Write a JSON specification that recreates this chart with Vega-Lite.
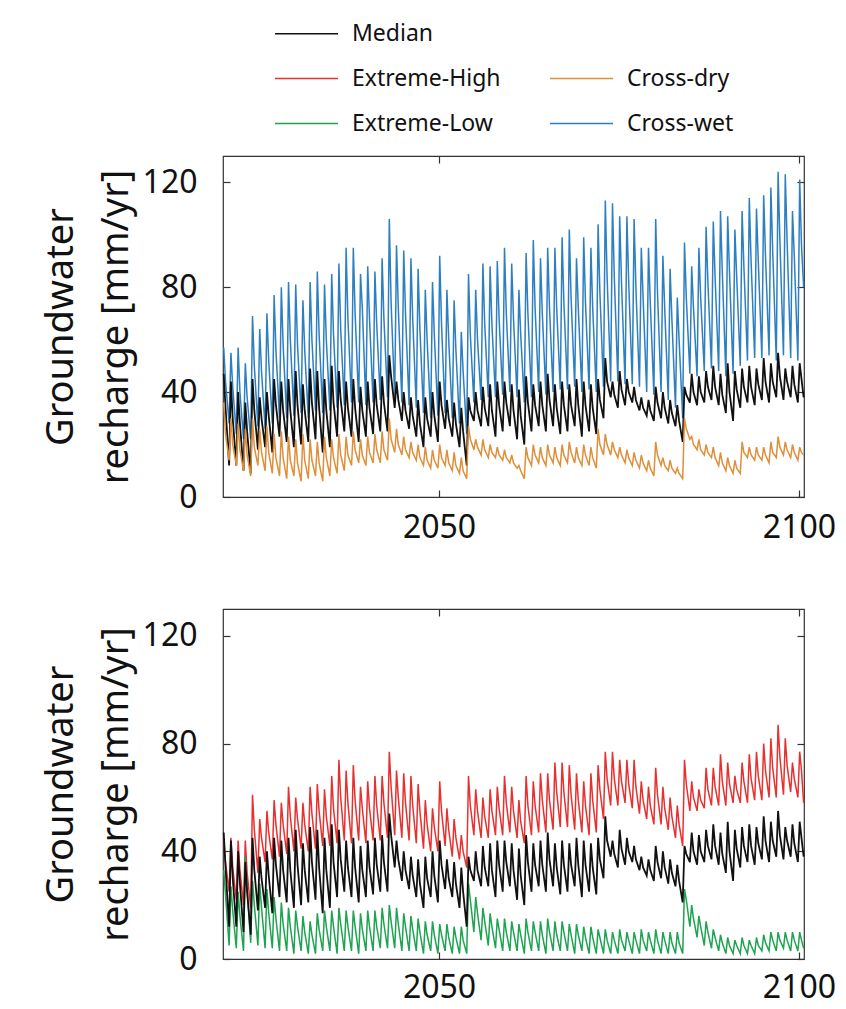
{
"$schema":"https://vega.github.io/schema/vega-lite/v6.json",
"padding":{"left":41,"top":1,"right":0,"bottom":10},
"background":"white",
"config":{"font":"Noto Sans","view":{"stroke":"#333333","strokeWidth":1.2},"axis":{"grid":false,"domain":false,"tickColor":"#333333","tickWidth":1.2,"labelColor":"#111111","titleColor":"#111111","titleFontWeight":"normal","labelFont":"Noto Sans","titleFont":"Noto Sans"}},
"datasets":{"series":[
{"t":2020.1,"w":57,"m":47,"d":36,"h":45,"l":33},{"t":2020.35,"w":44,"m":34,"d":24,"h":36,"l":24},{"t":2020.85,"w":28,"m":12,"d":14,"h":25,"l":5},
{"t":2021.1,"w":55,"m":44,"d":30,"h":45,"l":27},{"t":2021.35,"w":42,"m":30,"d":20,"h":34,"l":18},{"t":2021.85,"w":24,"m":12,"d":12,"h":22,"l":4},
{"t":2022.1,"w":57,"m":40,"d":28,"h":44,"l":25},{"t":2022.35,"w":40,"m":28,"d":18,"h":33,"l":16},{"t":2022.85,"w":22,"m":10,"d":10,"h":20,"l":3},
{"t":2023.1,"w":51,"m":36,"d":26,"h":44,"l":38},{"t":2023.35,"w":38,"m":25,"d":16,"h":32,"l":26},{"t":2023.85,"w":22,"m":9,"d":8,"h":19,"l":6},
{"t":2024.1,"w":69,"m":45,"d":30,"h":61,"l":29},{"t":2024.35,"w":50,"m":33,"d":19,"h":48,"l":20},{"t":2024.85,"w":27,"m":18,"d":12,"h":32,"l":5},
{"t":2025.1,"w":64,"m":38,"d":26,"h":52,"l":28},{"t":2025.35,"w":48,"m":30,"d":17,"h":45,"l":19},{"t":2025.85,"w":26,"m":19,"d":10,"h":36,"l":4},
{"t":2026.1,"w":70,"m":40,"d":27,"h":55,"l":26},{"t":2026.35,"w":52,"m":31,"d":17,"h":47,"l":17},{"t":2026.85,"w":28,"m":17,"d":9,"h":37,"l":4},
{"t":2027.1,"w":77,"m":45,"d":24,"h":59,"l":23},{"t":2027.35,"w":56,"m":35,"d":15,"h":50,"l":15},{"t":2027.85,"w":30,"m":23,"d":8,"h":38,"l":3},
{"t":2028.1,"w":80,"m":44,"d":25,"h":58,"l":21},{"t":2028.35,"w":58,"m":33,"d":15,"h":50,"l":13},{"t":2028.85,"w":30,"m":21,"d":7,"h":39,"l":3},
{"t":2029.1,"w":82,"m":45,"d":23,"h":64,"l":19},{"t":2029.35,"w":60,"m":33,"d":14,"h":53,"l":12},{"t":2029.85,"w":31,"m":19,"d":8,"h":40,"l":2},
{"t":2030.1,"w":81,"m":48,"d":22,"h":60,"l":18},{"t":2030.35,"w":58,"m":35,"d":13,"h":52,"l":12},{"t":2030.85,"w":32,"m":20,"d":6,"h":41,"l":3},
{"t":2031.1,"w":75,"m":43,"d":24,"h":58,"l":16},{"t":2031.35,"w":56,"m":33,"d":14,"h":50,"l":10},{"t":2031.85,"w":30,"m":21,"d":7,"h":40,"l":2},
{"t":2032.1,"w":82,"m":49,"d":22,"h":64,"l":14},{"t":2032.35,"w":60,"m":36,"d":14,"h":54,"l":9},{"t":2032.85,"w":33,"m":22,"d":8,"h":41,"l":2},
{"t":2033.1,"w":86,"m":48,"d":21,"h":65,"l":17},{"t":2033.35,"w":62,"m":34,"d":13,"h":55,"l":11},{"t":2033.85,"w":32,"m":17,"d":6,"h":42,"l":3},
{"t":2034.1,"w":81,"m":45,"d":23,"h":63,"l":18},{"t":2034.35,"w":60,"m":33,"d":15,"h":53,"l":12},{"t":2034.85,"w":33,"m":19,"d":8,"h":42,"l":3},
{"t":2035.1,"w":85,"m":50,"d":22,"h":68,"l":18},{"t":2035.35,"w":62,"m":36,"d":15,"h":56,"l":12},{"t":2035.85,"w":34,"m":23,"d":9,"h":43,"l":2},
{"t":2036.1,"w":89,"m":48,"d":24,"h":74,"l":19},{"t":2036.35,"w":64,"m":37,"d":16,"h":60,"l":13},{"t":2036.85,"w":35,"m":25,"d":10,"h":44,"l":3},
{"t":2037.1,"w":95,"m":44,"d":23,"h":70,"l":18},{"t":2037.35,"w":68,"m":34,"d":16,"h":58,"l":12},{"t":2037.85,"w":36,"m":23,"d":12,"h":43,"l":3},
{"t":2038.1,"w":95,"m":45,"d":25,"h":72,"l":18},{"t":2038.35,"w":70,"m":34,"d":18,"h":59,"l":12},{"t":2038.85,"w":36,"m":21,"d":13,"h":44,"l":2},
{"t":2039.1,"w":85,"m":42,"d":22,"h":64,"l":17},{"t":2039.35,"w":72,"m":33,"d":16,"h":56,"l":11},{"t":2039.85,"w":35,"m":23,"d":12,"h":43,"l":3},
{"t":2040.1,"w":88,"m":44,"d":23,"h":66,"l":18},{"t":2040.35,"w":68,"m":34,"d":17,"h":56,"l":12},{"t":2040.85,"w":36,"m":24,"d":13,"h":44,"l":3},
{"t":2041.1,"w":86,"m":45,"d":24,"h":68,"l":18},{"t":2041.35,"w":66,"m":35,"d":18,"h":57,"l":12},{"t":2041.85,"w":37,"m":25,"d":13,"h":44,"l":4},
{"t":2042.1,"w":91,"m":46,"d":25,"h":68,"l":19},{"t":2042.35,"w":68,"m":36,"d":18,"h":58,"l":13},{"t":2042.85,"w":38,"m":25,"d":14,"h":45,"l":4},
{"t":2043.1,"w":106,"m":54,"d":30,"h":77,"l":20},{"t":2043.35,"w":74,"m":46,"d":22,"h":64,"l":14},{"t":2043.85,"w":38,"m":34,"d":17,"h":46,"l":4},
{"t":2044.1,"w":96,"m":44,"d":26,"h":70,"l":19},{"t":2044.35,"w":72,"m":37,"d":20,"h":60,"l":13},{"t":2044.85,"w":36,"m":29,"d":16,"h":45,"l":3},
{"t":2045.1,"w":94,"m":40,"d":23,"h":69,"l":17},{"t":2045.35,"w":70,"m":33,"d":18,"h":58,"l":12},{"t":2045.85,"w":35,"m":26,"d":15,"h":44,"l":3},
{"t":2046.1,"w":91,"m":38,"d":21,"h":68,"l":16},{"t":2046.35,"w":68,"m":31,"d":17,"h":57,"l":11},{"t":2046.85,"w":34,"m":23,"d":14,"h":43,"l":3},
{"t":2047.1,"w":87,"m":37,"d":20,"h":65,"l":15},{"t":2047.35,"w":64,"m":28,"d":15,"h":55,"l":10},{"t":2047.85,"w":32,"m":19,"d":12,"h":41,"l":2},
{"t":2048.1,"w":79,"m":38,"d":19,"h":59,"l":14},{"t":2048.35,"w":60,"m":30,"d":14,"h":50,"l":9},{"t":2048.85,"w":30,"m":23,"d":11,"h":40,"l":3},
{"t":2049.1,"w":82,"m":40,"d":18,"h":56,"l":14},{"t":2049.35,"w":62,"m":31,"d":14,"h":49,"l":9},{"t":2049.85,"w":31,"m":21,"d":11,"h":40,"l":2},
{"t":2050.1,"w":92,"m":44,"d":20,"h":66,"l":13},{"t":2050.35,"w":66,"m":35,"d":15,"h":55,"l":9},{"t":2050.85,"w":32,"m":26,"d":12,"h":42,"l":3},
{"t":2051.1,"w":79,"m":37,"d":18,"h":56,"l":13},{"t":2051.35,"w":60,"m":30,"d":13,"h":48,"l":8},{"t":2051.85,"w":30,"m":23,"d":10,"h":38,"l":2},
{"t":2052.1,"w":75,"m":36,"d":17,"h":52,"l":12},{"t":2052.35,"w":56,"m":28,"d":12,"h":45,"l":8},{"t":2052.85,"w":28,"m":19,"d":9,"h":37,"l":2},
{"t":2053.1,"w":63,"m":34,"d":15,"h":46,"l":12},{"t":2053.35,"w":48,"m":25,"d":10,"h":40,"l":7},{"t":2053.85,"w":24,"m":12,"d":7,"h":34,"l":2},
{"t":2054.1,"w":85,"m":38,"d":27,"h":68,"l":28},{"t":2054.35,"w":62,"m":33,"d":22,"h":57,"l":22},{"t":2054.85,"w":36,"m":29,"d":18,"h":46,"l":10},
{"t":2055.1,"w":79,"m":40,"d":22,"h":63,"l":23},{"t":2055.35,"w":60,"m":33,"d":19,"h":55,"l":17},{"t":2055.85,"w":37,"m":27,"d":16,"h":45,"l":7},
{"t":2056.1,"w":89,"m":42,"d":22,"h":60,"l":19},{"t":2056.35,"w":66,"m":34,"d":18,"h":53,"l":14},{"t":2056.85,"w":38,"m":27,"d":15,"h":45,"l":5},
{"t":2057.1,"w":88,"m":43,"d":20,"h":63,"l":17},{"t":2057.35,"w":66,"m":33,"d":17,"h":55,"l":12},{"t":2057.85,"w":38,"m":23,"d":15,"h":46,"l":4},
{"t":2058.1,"w":90,"m":44,"d":19,"h":64,"l":15},{"t":2058.35,"w":68,"m":35,"d":16,"h":56,"l":11},{"t":2058.85,"w":39,"m":25,"d":14,"h":46,"l":3},
{"t":2059.1,"w":95,"m":44,"d":18,"h":68,"l":15},{"t":2059.35,"w":70,"m":36,"d":15,"h":58,"l":10},{"t":2059.85,"w":40,"m":27,"d":13,"h":47,"l":3},
{"t":2060.1,"w":89,"m":43,"d":16,"h":64,"l":14},{"t":2060.35,"w":68,"m":33,"d":13,"h":55,"l":10},{"t":2060.85,"w":38,"m":22,"d":11,"h":45,"l":3},
{"t":2061.1,"w":79,"m":41,"d":12,"h":59,"l":13},{"t":2061.35,"w":62,"m":31,"d":10,"h":51,"l":9},{"t":2061.85,"w":36,"m":20,"d":7,"h":43,"l":2},
{"t":2062.1,"w":93,"m":46,"d":19,"h":68,"l":15},{"t":2062.35,"w":70,"m":36,"d":15,"h":57,"l":10},{"t":2062.85,"w":38,"m":25,"d":12,"h":46,"l":3},
{"t":2063.1,"w":98,"m":43,"d":20,"h":66,"l":14},{"t":2063.35,"w":72,"m":35,"d":16,"h":57,"l":10},{"t":2063.85,"w":40,"m":27,"d":13,"h":47,"l":3},
{"t":2064.1,"w":91,"m":44,"d":19,"h":69,"l":14},{"t":2064.35,"w":70,"m":35,"d":15,"h":59,"l":9},{"t":2064.85,"w":39,"m":25,"d":12,"h":47,"l":2},
{"t":2065.1,"w":95,"m":47,"d":20,"h":69,"l":15},{"t":2065.35,"w":72,"m":37,"d":16,"h":59,"l":10},{"t":2065.85,"w":40,"m":27,"d":13,"h":48,"l":3},
{"t":2066.1,"w":95,"m":43,"d":19,"h":73,"l":14},{"t":2066.35,"w":72,"m":34,"d":15,"h":62,"l":9},{"t":2066.85,"w":41,"m":24,"d":12,"h":49,"l":3},
{"t":2067.1,"w":99,"m":44,"d":20,"h":73,"l":14},{"t":2067.35,"w":74,"m":35,"d":16,"h":62,"l":10},{"t":2067.85,"w":41,"m":25,"d":13,"h":49,"l":3},
{"t":2068.1,"w":102,"m":43,"d":21,"h":72,"l":13},{"t":2068.35,"w":76,"m":35,"d":17,"h":61,"l":9},{"t":2068.85,"w":42,"m":27,"d":13,"h":48,"l":2},
{"t":2069.1,"w":91,"m":45,"d":19,"h":69,"l":13},{"t":2069.35,"w":72,"m":35,"d":15,"h":59,"l":9},{"t":2069.85,"w":40,"m":23,"d":12,"h":47,"l":3},
{"t":2070.1,"w":99,"m":44,"d":20,"h":66,"l":12},{"t":2070.35,"w":74,"m":35,"d":16,"h":57,"l":8},{"t":2070.85,"w":41,"m":25,"d":12,"h":46,"l":2},
{"t":2071.1,"w":95,"m":43,"d":19,"h":69,"l":12},{"t":2071.35,"w":72,"m":34,"d":15,"h":59,"l":8},{"t":2071.85,"w":40,"m":24,"d":11,"h":47,"l":2},
{"t":2072.1,"w":104,"m":45,"d":26,"h":72,"l":11},{"t":2072.35,"w":78,"m":37,"d":20,"h":63,"l":8},{"t":2072.85,"w":42,"m":30,"d":16,"h":52,"l":2},
{"t":2073.1,"w":113,"m":53,"d":24,"h":77,"l":11},{"t":2073.35,"w":84,"m":44,"d":20,"h":67,"l":7},{"t":2073.85,"w":44,"m":38,"d":16,"h":57,"l":2},
{"t":2074.1,"w":112,"m":44,"d":21,"h":77,"l":10},{"t":2074.35,"w":84,"m":39,"d":18,"h":67,"l":7},{"t":2074.85,"w":44,"m":34,"d":15,"h":57,"l":2},
{"t":2075.1,"w":107,"m":48,"d":19,"h":74,"l":11},{"t":2075.35,"w":82,"m":41,"d":16,"h":66,"l":7},{"t":2075.85,"w":43,"m":35,"d":13,"h":58,"l":3},
{"t":2076.1,"w":107,"m":45,"d":18,"h":74,"l":10},{"t":2076.35,"w":82,"m":40,"d":15,"h":65,"l":7},{"t":2076.85,"w":43,"m":36,"d":12,"h":56,"l":2},
{"t":2077.1,"w":106,"m":42,"d":17,"h":74,"l":10},{"t":2077.35,"w":80,"m":37,"d":14,"h":64,"l":7},{"t":2077.85,"w":42,"m":33,"d":11,"h":54,"l":2},
{"t":2078.1,"w":95,"m":38,"d":16,"h":66,"l":11},{"t":2078.35,"w":76,"m":34,"d":13,"h":59,"l":7},{"t":2078.85,"w":40,"m":31,"d":10,"h":52,"l":3},
{"t":2079.1,"w":95,"m":37,"d":14,"h":64,"l":10},{"t":2079.35,"w":74,"m":33,"d":11,"h":57,"l":7},{"t":2079.85,"w":39,"m":29,"d":8,"h":50,"l":2},
{"t":2080.1,"w":106,"m":42,"d":21,"h":71,"l":11},{"t":2080.35,"w":78,"m":36,"d":16,"h":61,"l":7},{"t":2080.85,"w":40,"m":30,"d":12,"h":50,"l":2},
{"t":2081.1,"w":92,"m":40,"d":15,"h":64,"l":10},{"t":2081.35,"w":72,"m":34,"d":12,"h":56,"l":7},{"t":2081.85,"w":37,"m":28,"d":10,"h":48,"l":2},
{"t":2082.1,"w":87,"m":37,"d":14,"h":60,"l":10},{"t":2082.35,"w":68,"m":32,"d":11,"h":53,"l":6},{"t":2082.85,"w":34,"m":27,"d":9,"h":45,"l":2},
{"t":2083.1,"w":76,"m":35,"d":11,"h":57,"l":10},{"t":2083.35,"w":60,"m":29,"d":9,"h":50,"l":6},{"t":2083.85,"w":30,"m":21,"d":7,"h":42,"l":2},
{"t":2084.1,"w":97,"m":42,"d":30,"h":74,"l":26},{"t":2084.35,"w":76,"m":39,"d":26,"h":65,"l":22},{"t":2084.85,"w":47,"m":36,"d":22,"h":55,"l":12},
{"t":2085.1,"w":88,"m":47,"d":23,"h":66,"l":20},{"t":2085.35,"w":72,"m":40,"d":20,"h":60,"l":15},{"t":2085.85,"w":46,"m":35,"d":18,"h":55,"l":8},
{"t":2086.1,"w":95,"m":46,"d":22,"h":63,"l":16},{"t":2086.35,"w":76,"m":40,"d":18,"h":59,"l":12},{"t":2086.85,"w":48,"m":36,"d":16,"h":56,"l":5},
{"t":2087.1,"w":103,"m":48,"d":20,"h":71,"l":14},{"t":2087.35,"w":82,"m":42,"d":17,"h":63,"l":10},{"t":2087.85,"w":49,"m":37,"d":15,"h":57,"l":4},
{"t":2088.1,"w":105,"m":50,"d":19,"h":71,"l":11},{"t":2088.35,"w":84,"m":42,"d":15,"h":64,"l":8},{"t":2088.85,"w":48,"m":35,"d":12,"h":57,"l":3},
{"t":2089.1,"w":109,"m":47,"d":17,"h":76,"l":9},{"t":2089.35,"w":86,"m":39,"d":13,"h":66,"l":6},{"t":2089.85,"w":46,"m":32,"d":10,"h":57,"l":2},
{"t":2090.1,"w":107,"m":51,"d":15,"h":73,"l":8},{"t":2090.35,"w":86,"m":40,"d":12,"h":65,"l":5},{"t":2090.85,"w":47,"m":29,"d":9,"h":58,"l":2},
{"t":2091.1,"w":102,"m":48,"d":14,"h":68,"l":7},{"t":2091.35,"w":84,"m":41,"d":11,"h":63,"l":5},{"t":2091.85,"w":50,"m":34,"d":9,"h":58,"l":2},
{"t":2092.1,"w":109,"m":49,"d":21,"h":73,"l":8},{"t":2092.35,"w":88,"m":42,"d":17,"h":66,"l":5},{"t":2092.85,"w":52,"m":36,"d":15,"h":58,"l":2},
{"t":2093.1,"w":114,"m":50,"d":19,"h":76,"l":7},{"t":2093.35,"w":90,"m":42,"d":16,"h":67,"l":5},{"t":2093.85,"w":53,"m":35,"d":14,"h":59,"l":2},
{"t":2094.1,"w":110,"m":49,"d":19,"h":77,"l":8},{"t":2094.35,"w":90,"m":43,"d":16,"h":68,"l":5},{"t":2094.85,"w":53,"m":37,"d":14,"h":59,"l":3},
{"t":2095.1,"w":115,"m":53,"d":19,"h":80,"l":9},{"t":2095.35,"w":92,"m":44,"d":16,"h":70,"l":6},{"t":2095.85,"w":54,"m":36,"d":13,"h":60,"l":3},
{"t":2096.1,"w":118,"m":51,"d":21,"h":82,"l":10},{"t":2096.35,"w":94,"m":44,"d":17,"h":71,"l":7},{"t":2096.85,"w":52,"m":38,"d":15,"h":60,"l":3},
{"t":2097.1,"w":124,"m":55,"d":23,"h":87,"l":10},{"t":2097.35,"w":98,"m":46,"d":19,"h":75,"l":7},{"t":2097.85,"w":54,"m":37,"d":16,"h":61,"l":4},
{"t":2098.1,"w":123,"m":49,"d":21,"h":82,"l":10},{"t":2098.35,"w":98,"m":44,"d":18,"h":72,"l":7},{"t":2098.85,"w":53,"m":38,"d":15,"h":62,"l":3},
{"t":2099.1,"w":109,"m":50,"d":20,"h":73,"l":10},{"t":2099.35,"w":92,"m":43,"d":17,"h":67,"l":7},{"t":2099.85,"w":52,"m":36,"d":14,"h":60,"l":3},
{"t":2100.1,"w":121,"m":51,"d":19,"h":77,"l":10},{"t":2100.35,"w":96,"m":45,"d":17,"h":70,"l":7},{"t":2100.65,"w":80,"m":38,"d":16,"h":58,"l":4}
]},
"resolve":{"scale":{"color":"shared"},"legend":{"color":"shared"}},
"bounds":"flush",
"spacing":112,
"vconcat":[
{"width":581,"height":341,"data":{"name":"series"},
"resolve":{"axis":{"x":"independent","y":"independent"}},
"layer":[
{"mark":{"type":"line","strokeWidth":1.5},"encoding":{
"x":{"field":"t","type":"quantitative","scale":{"domain":[2020,2100.7],"nice":false,"zero":false},"axis":{"orient":"bottom","values":[2050,2100],"format":"d","tickSize":-7,"labelFontSize":32,"labelPadding":22,"labelFlush":false,"title":null}},
"y":{"field":"w","type":"quantitative","scale":{"domain":[0,130],"nice":false},"axis":{"orient":"left","values":[0,40,80,120],"tickSize":-7,"labelFontSize":32,"labelPadding":33,"title":["Groundwater","recharge [mm/yr]"],"titleFontSize":38,"titleLineHeight":55,"titlePadding":7}},
"color":{"datum":"Cross-wet","type":"nominal","scale":{"domain":["Median","Extreme-High","Extreme-Low"," ","Cross-dry","Cross-wet"],"range":["#111111","#e8302f","#1ea351","transparent","#df8f3a","#2e7fc2"]},"legend":{"orient":"none","legendX":51,"legendY":-155,"columns":2,"symbolType":"stroke","symbolSize":3969,"symbolStrokeWidth":1.5,"labelFontSize":23,"labelFont":"Noto Sans","labelColor":"#111111","labelOffset":13,"rowPadding":0,"columnPadding":46,"title":null,"padding":0}}}},
{"mark":{"type":"line","strokeWidth":1.8},"encoding":{
"x":{"field":"t","type":"quantitative","scale":{"domain":[2020,2100.7],"nice":false,"zero":false},"axis":{"orient":"top","values":[2050,2100],"tickSize":-7,"labels":false,"title":null}},
"y":{"field":"m","type":"quantitative","scale":{"domain":[0,130],"nice":false},"axis":{"orient":"right","values":[0,40,80,120],"tickSize":-7,"labels":false,"title":null}},
"color":{"datum":"Median","type":"nominal","scale":{"domain":["Median","Extreme-High","Extreme-Low"," ","Cross-dry","Cross-wet"],"range":["#111111","#e8302f","#1ea351","transparent","#df8f3a","#2e7fc2"]}}}},
{"mark":{"type":"line","strokeWidth":1.5},"encoding":{
"x":{"field":"t","type":"quantitative","scale":{"domain":[2020,2100.7],"nice":false,"zero":false},"axis":null},
"y":{"field":"d","type":"quantitative","scale":{"domain":[0,130],"nice":false},"axis":null},
"color":{"datum":"Cross-dry","type":"nominal","scale":{"domain":["Median","Extreme-High","Extreme-Low"," ","Cross-dry","Cross-wet"],"range":["#111111","#e8302f","#1ea351","transparent","#df8f3a","#2e7fc2"]}}}}
]},
{"width":581,"height":350,"data":{"name":"series"},
"resolve":{"axis":{"x":"independent","y":"independent"}},
"layer":[
{"mark":{"type":"line","strokeWidth":1.5},"encoding":{
"x":{"field":"t","type":"quantitative","scale":{"domain":[2020,2100.7],"nice":false,"zero":false},"axis":{"orient":"bottom","values":[2050,2100],"format":"d","tickSize":-7,"labelFontSize":32,"labelPadding":20,"labelFlush":false,"title":null}},
"y":{"field":"h","type":"quantitative","scale":{"domain":[0,130],"nice":false},"axis":{"orient":"left","values":[0,40,80,120],"tickSize":-7,"labelFontSize":32,"labelPadding":33,"title":["Groundwater","recharge [mm/yr]"],"titleFontSize":38,"titleLineHeight":55,"titlePadding":7}},
"color":{"datum":"Extreme-High","type":"nominal","scale":{"domain":["Median","Extreme-High","Extreme-Low"," ","Cross-dry","Cross-wet"],"range":["#111111","#e8302f","#1ea351","transparent","#df8f3a","#2e7fc2"]}}}},
{"mark":{"type":"line","strokeWidth":1.5},"encoding":{
"x":{"field":"t","type":"quantitative","scale":{"domain":[2020,2100.7],"nice":false,"zero":false},"axis":{"orient":"top","values":[2050,2100],"tickSize":-7,"labels":false,"title":null}},
"y":{"field":"l","type":"quantitative","scale":{"domain":[0,130],"nice":false},"axis":{"orient":"right","values":[0,40,80,120],"tickSize":-7,"labels":false,"title":null}},
"color":{"datum":"Extreme-Low","type":"nominal","scale":{"domain":["Median","Extreme-High","Extreme-Low"," ","Cross-dry","Cross-wet"],"range":["#111111","#e8302f","#1ea351","transparent","#df8f3a","#2e7fc2"]}}}},
{"mark":{"type":"line","strokeWidth":1.8},"encoding":{
"x":{"field":"t","type":"quantitative","scale":{"domain":[2020,2100.7],"nice":false,"zero":false},"axis":null},
"y":{"field":"m","type":"quantitative","scale":{"domain":[0,130],"nice":false},"axis":null},
"color":{"datum":"Median","type":"nominal","scale":{"domain":["Median","Extreme-High","Extreme-Low"," ","Cross-dry","Cross-wet"],"range":["#111111","#e8302f","#1ea351","transparent","#df8f3a","#2e7fc2"]}}}}
]}
]
}
